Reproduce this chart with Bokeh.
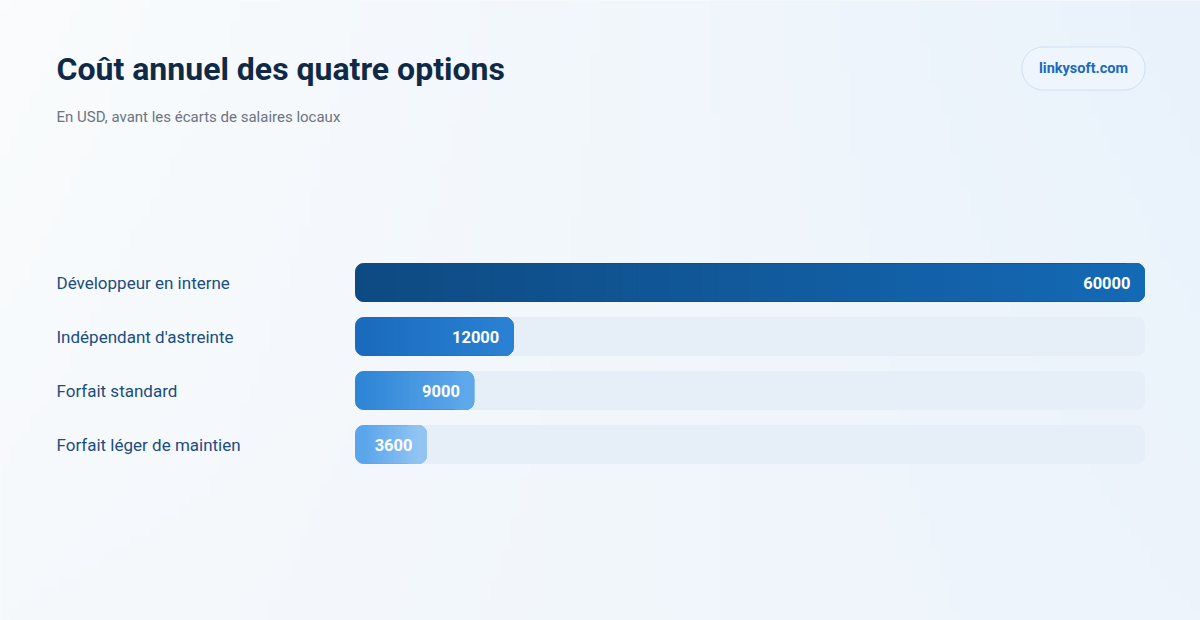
import numpy as np
from bokeh.plotting import figure
from bokeh.models import Range1d, Label, LabelSet, ColumnDataSource
from bokeh.core.properties import value
from bokeh.embed import file_html
from bokeh.resources import INLINE

# ---- data ----
categories = ["Développeur en interne", "Indépendant d'astreinte", "Forfait standard", "Forfait léger de maintien"]
costs = [60000, 12000, 9000, 3600]
value_labels = ["60000", "12000", "9000", "3600"]
title_text = "Coût annuel des quatre options"
subtitle_text = "En USD, avant les écarts de salaires locaux"
brand_text = "linkysoft.com"

# ---- style ----
W, H = 1200, 620
FONT = "Roboto"
bar_start_px, bar_end_px = 355, 1144
row0_px, row_step_px = 282, 54
bar_h_px = 38
radius = 8
grad_from = ["#0e4a82", "#1a6bbe", "#2f86d6", "#5aa5eb"]
grad_to = ["#1469b5", "#2a80d2", "#5fa8ec", "#91c4f3"]
track_color = "#e6eef8"
label_color = "#1b4d80"
title_color = "#0f2a47"

vmax = max(costs)
upp = vmax / (bar_end_px - bar_start_px)  # data units per pixel
x_lo = -bar_start_px * upp
x_hi = (W - bar_start_px) * upp
y_top = -row0_px / row_step_px
y_bot = (H - row0_px) / row_step_px
bar_h = bar_h_px / row_step_px

p = figure(width=W, height=H, output_backend="svg", toolbar_location=None,
           x_range=Range1d(x_lo, x_hi), y_range=Range1d(y_bot, y_top),
           min_border=0, outline_line_color=None)
p.axis.visible = False
p.grid.visible = False
p.background_fill_color = "#f4f8fc"
p.border_fill_color = "#f4f8fc"

# background gradient image
ny, nx = 60, 120
tl = np.array([250, 252, 253]); tr = np.array([233, 242, 251])
bl = np.array([246, 249, 252]); br = np.array([237, 244, 251])
u = np.linspace(0, 1, nx)[None, :, None]
v = np.linspace(0, 1, ny)[:, None, None]
rgb = (1 - v) * ((1 - u) * tl + u * tr) + v * ((1 - u) * bl + u * br)
img = np.empty((ny, nx), dtype=np.uint32)
view = img.view(dtype=np.uint8).reshape((ny, nx, 4))
view[:, :, :3] = rgb.astype(np.uint8)
view[:, :, 3] = 255
p.image_rgba(image=[img], x=x_lo, y=y_top, dw=x_hi - x_lo, dh=y_bot - y_top)

rows = list(range(len(categories)))
min_frac = 0.09
display_end = [max(c, min_frac * vmax) for c in costs]

# tracks
p.hbar(y=rows, left=0, right=vmax, height=bar_h, color=track_color, border_radius=radius)

def hex2rgb(h):
    h = h.lstrip("#")
    return np.array([int(h[i:i + 2], 16) for i in (0, 2, 4)], dtype=float)

r_units = radius * upp
n_strips = 48
for i, (c0, c1, end) in enumerate(zip(grad_from, grad_to, display_end)):
    # rounded caps
    p.hbar(y=[i], left=[0], right=[end], height=bar_h, color=c0, border_radius=radius)
    p.hbar(y=[i], left=[end - 3 * r_units], right=[end], height=bar_h, color=c1, border_radius=radius)
    edges = np.linspace(r_units, end - r_units, n_strips + 1)
    a, b = hex2rgb(c0), hex2rgb(c1)
    cols = []
    for k in range(n_strips):
        t = (k + 0.5) / n_strips
        c = (1 - t) * a + t * b
        cols.append("#%02x%02x%02x" % tuple(int(round(x)) for x in c))
    p.quad(left=edges[:-1], right=edges[1:] + 0.6 * upp, bottom=i - bar_h / 2, top=i + bar_h / 2,
           color=cols, line_color=None)

# value labels
p.text(x=display_end, y=rows, text=value_labels, x_offset=-14, text_align="right",
       text_baseline="middle", text_color="white", text_font=value(FONT),
       text_font_size="16.5px", text_font_style="bold")

# category labels
src = ColumnDataSource(dict(y=rows, t=categories))
p.add_layout(LabelSet(x=56, y="y", text="t", source=src, x_units="screen",
                      text_baseline="middle", text_color=label_color,
                      text_font=value(FONT), text_font_size=value("17px"),
                      text_font_style=value("normal")))

# title / subtitle
p.add_layout(Label(x=56, y=H - 68, x_units="screen", y_units="screen", text=title_text,
                   text_font=FONT, text_font_size="32px", text_font_style="bold",
                   text_color=title_color, text_baseline="middle"))
p.add_layout(Label(x=56, y=H - 116, x_units="screen", y_units="screen", text=subtitle_text,
                   text_font=FONT, text_font_size="15px", text_color="#6b7480",
                   text_baseline="middle"))
# brand pill
p.add_layout(Label(x=1083, y=H - 68, x_units="screen", y_units="screen", text=brand_text,
                   text_font=FONT, text_font_size="14.5px", text_font_style="bold",
                   text_color="#1a6bbe", text_align="center", text_baseline="middle",
                   background_fill_color="#eef5fd", border_line_color="#cfe0f3",
                   border_line_width=1, padding=(17, 13), border_radius=21))

open("out.html", "w").write(file_html(p, INLINE))
